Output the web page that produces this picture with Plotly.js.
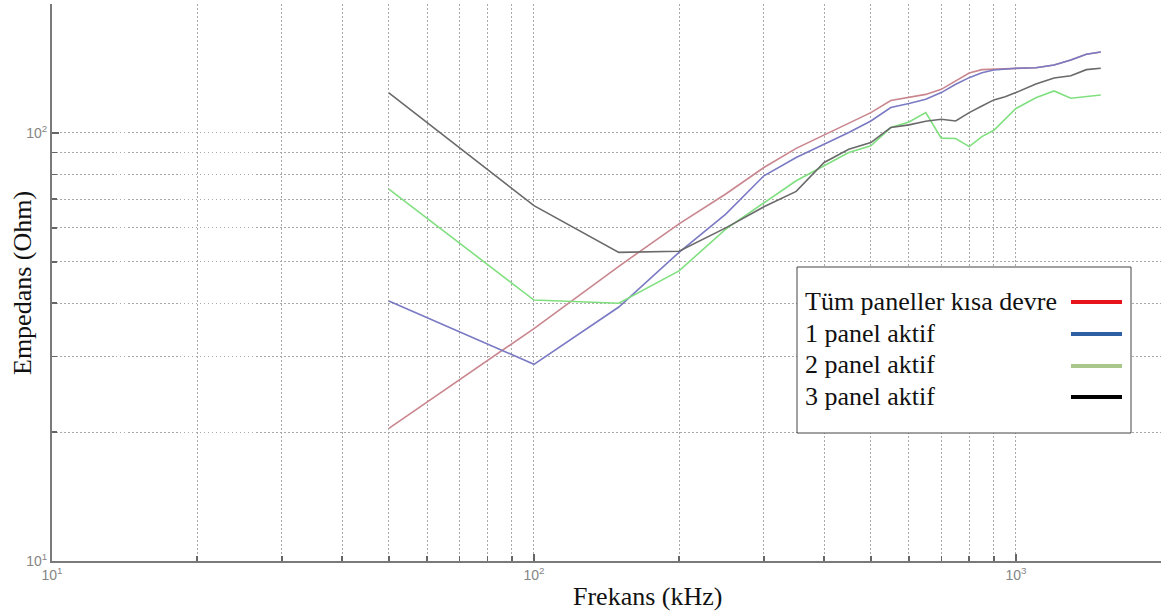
<!DOCTYPE html>
<html>
<head>
<meta charset="utf-8">
<script src="https://cdn.plot.ly/plotly-3.0.1.min.js"></script>
<style>
  html, body { margin: 0; padding: 0; background: #fff; }
  #chart { width: 1169px; height: 616px; }
</style>
</head>
<body>
<div id="chart"></div>
<script>
// ---- data (frequency in kHz, impedance in Ohm) ----
const freq = [50, 100, 150, 200, 250, 300, 350, 400, 450, 500, 550, 600, 650, 700, 750, 800, 850, 900, 950, 1000, 1100, 1200, 1300, 1400, 1500];

const tumPaneller = [20.4, 34.9, 48.8, 61.3, 72, 83, 92, 99, 105.7, 111.5, 119, 121, 123, 126.4, 132, 138, 140.5, 140.8, 141, 141.6, 142, 144, 148, 152.6, 154.5];
const panel1 = [40.5, 28.8, 39.2, 52.6, 64.6, 79.4, 87.6, 94, 100.2, 106.6, 114.6, 117.1, 119.8, 124.2, 129.9, 134.6, 138.2, 140.3, 141, 141.6, 141.9, 144, 148, 152.6, 154.5];
const panel2 = [73.9, 40.7, 40.0, 47.6, 59.6, 68.5, 77.3, 83.8, 90, 93.3, 102.9, 106, 111.5, 97.2, 97, 92.9, 98, 101.4, 108, 114, 120.8, 125.3, 120.5, 121.5, 122.6];
const panel3 = [124, 67.6, 52.6, 52.9, 60, 67.2, 73, 85.3, 91.6, 94.9, 102.9, 104.4, 106.5, 107.6, 106.6, 111.5, 115.5, 119.4, 121.5, 124.2, 130, 134.4, 136, 140.5, 141.6];

const seriesNames = ["Tüm paneller kısa devre", "1 panel aktif", "2 panel aktif", "3 panel aktif"];
const xTickVals = [10, 100, 1000];
const xTickText = ["10<sup>1</sup>", "10<sup>2</sup>", "10<sup>3</sup>"];
const yTickVals = [10, 100];
const yTickText = ["10<sup>1</sup>", "10<sup>2</sup>"];

// ---- styles ----
const lineColors = ["#c9868e", "#7a7ac4", "#80e080", "#6a6a6a"];
const legendColors = ["#e8141c", "#2f5fa3", "#a9c78a", "#000000"];

const traces = [tumPaneller, panel1, panel2, panel3].map((ys, i) => ({
  type: "scatter", mode: "lines", x: freq, y: ys, name: seriesNames[i],
  line: { color: lineColors[i], width: 1.6 }, showlegend: false, hoverinfo: "x+y+name"
}));

function minorVals(lo, hi) {
  const v = [];
  for (let d = lo; d < hi; d *= 10) for (let k = 2; k <= 9; k++) v.push(k * d);
  return v;
}
const xMinor = minorVals(10, 1000).concat([2000]);
const yMinor = minorVals(10, 100).concat([200]);

// plot area in pixels
const W = 1169, H = 616, L = 52, R = 8, T = 4, B = 55;
const pw = W - L - R, ph = H - T - B;
const px = x => (x - L) / pw;
const py = y => (H - B - y) / ph;

const gridCol = "#a8a8a8";
const gridDash = "1.5px,2.5px";
const axisCommon = {
  type: "log", tickmode: "array", showline: true, linecolor: "#7a7a7a", linewidth: 2,
  ticks: "inside", ticklen: 7, tickwidth: 1.5, tickcolor: "#666",
  showgrid: true, gridcolor: gridCol, gridwidth: 1, griddash: gridDash,
  zeroline: false, mirror: false,
  tickfont: { family: "Liberation Sans, Arial, sans-serif", size: 14, color: "#858585" },
};

const shapes = [
  { type: "rect", xref: "paper", yref: "paper", x0: px(797), x1: px(1131), y0: py(433), y1: py(267),
    line: { color: "#444", width: 1 }, fillcolor: "#ffffff", layer: "above" }
];
const annotations = [
  { xref: "paper", yref: "paper", x: px(647), y: py(596), text: "Frekans (kHz)", showarrow: false,
    font: { family: "Liberation Serif, Times New Roman, serif", size: 26, color: "#111" }, xanchor: "center", yanchor: "middle" },
  { xref: "paper", yref: "paper", x: px(22), y: py(283), text: "Empedans (Ohm)", showarrow: false, textangle: -90,
    font: { family: "Liberation Serif, Times New Roman, serif", size: 26, color: "#111" }, xanchor: "center", yanchor: "middle" }
];
const legendY = [301, 333, 365, 396];
seriesNames.forEach((n, i) => {
  annotations.push({ xref: "paper", yref: "paper", x: px(803), y: py(legendY[i]), text: n, showarrow: false,
    xanchor: "left", yanchor: "middle",
    font: { family: "Liberation Serif, Times New Roman, serif", size: 26, color: "#111" } });
  shapes.push({ type: "line", xref: "paper", yref: "paper", x0: px(1071), x1: px(1122), y0: py(legendY[i] + 1), y1: py(legendY[i] + 1),
    line: { color: legendColors[i], width: 4 }, layer: "above" });
});

const layout = {
  width: W, height: H, margin: { l: L, r: R, t: T, b: B },
  paper_bgcolor: "#fff", plot_bgcolor: "#fff", showlegend: false,
  xaxis: Object.assign({}, axisCommon, {
    range: [1, Math.log10(2000)], tickvals: xTickVals, ticktext: xTickText,
    minor: { tickmode: "array", tickvals: xMinor, ticks: "inside", ticklen: 5, tickcolor: "#666", tickwidth: 1.5,
             showgrid: true, gridcolor: gridCol, gridwidth: 1, griddash: gridDash }
  }),
  yaxis: Object.assign({}, axisCommon, {
    range: [1, Math.log10(200)], tickvals: yTickVals, ticktext: yTickText,
    minor: { tickmode: "array", tickvals: yMinor, ticks: "inside", ticklen: 5, tickcolor: "#666", tickwidth: 1.5,
             showgrid: true, gridcolor: gridCol, gridwidth: 1, griddash: gridDash }
  }),
  shapes: shapes, annotations: annotations
};

Plotly.newPlot("chart", traces, layout, { staticPlot: true, displayModeBar: false });
</script>
</body>
</html>
